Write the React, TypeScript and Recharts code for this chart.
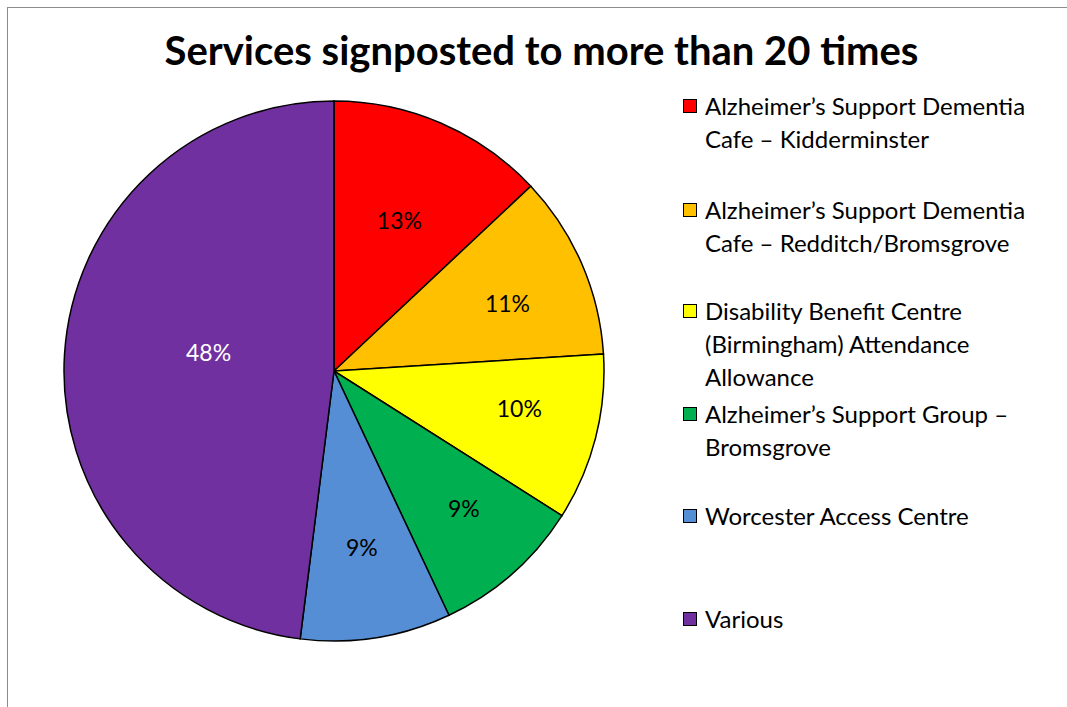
import { PieChart, Pie, Cell, Legend } from 'recharts';

const services = [
  'Alzheimer\u2019s Support Dementia Cafe \u2013 Kidderminster',
  'Alzheimer\u2019s Support Dementia Cafe \u2013 Redditch/Bromsgrove',
  'Disability Benefit Centre (Birmingham) Attendance Allowance',
  'Alzheimer\u2019s Support Group \u2013 Bromsgrove',
  'Worcester Access Centre',
  'Various',
];
const shares = [13, 11, 10, 9, 9, 48];

// legend text is wrapped by hand like the original layout
const legendLines = [
  ['Alzheimer\u2019s Support Dementia', 'Cafe \u2013 Kidderminster'],
  ['Alzheimer\u2019s Support Dementia', 'Cafe \u2013 Redditch/Bromsgrove'],
  ['Disability Benefit Centre', '(Birmingham) Attendance', 'Allowance'],
  ['Alzheimer\u2019s Support Group \u2013', 'Bromsgrove'],
  ['Worcester Access Centre'],
  ['Various'],
];

const colors = ['#ff0000', '#ffc000', '#ffff00', '#00b050', '#558ed5', '#7030a0'];
const labelColors = ['#000', '#000', '#000', '#000', '#000', '#fff'];
const labelRadius = [0.61, 0.69, 0.7, 0.7, 0.66, 0.47];
const labelTurn = [0, -2, 3, 2, 0, -5]; // small angular nudges, degrees (ccw positive)
const legendTops = [89, 193, 294, 397, 499, 602];

const FONT = 'Lato, "Open Sans", sans-serif';
const RADIAN = Math.PI / 180;

const data = services.map((name, i) => ({ name, value: shares[i] }));

function SliceLabel(props: any) {
  const { cx, cy, midAngle, outerRadius, index, value } = props;
  const r = outerRadius * labelRadius[index];
  const a = (midAngle + labelTurn[index]) * RADIAN;
  const x = cx + r * Math.cos(-a);
  const y = cy + r * Math.sin(-a);
  return (
    <text
      x={x}
      y={y}
      fill={labelColors[index]}
      textAnchor="middle"
      dominantBaseline="central"
      fontSize={23}
      fontFamily={FONT}
    >
      {`${value}%`}
    </text>
  );
}

function ServiceLegend() {
  return (
    <div style={{ position: 'relative', width: 380, height: 560, fontFamily: FONT }}>
      {legendLines.map((lines, i) => (
        <div key={i} style={{ position: 'absolute', top: legendTops[i], left: 0, display: 'flex' }}>
          <div
            style={{
              width: 14,
              height: 14,
              marginTop: 10,
              marginRight: 8,
              background: colors[i],
              border: '1.5px solid #000',
              boxSizing: 'border-box',
              flexShrink: 0,
            }}
          />
          <div style={{ fontSize: 24, lineHeight: '33px', color: '#000' }}>
            {lines.map((l, j) => (
              <div key={j} style={{ whiteSpace: 'nowrap' }}>{l}</div>
            ))}
          </div>
        </div>
      ))}
    </div>
  );
}

export default function App() {
  return (
    <div style={{ position: 'absolute', left: 0, top: 0, width: 1067, height: 707, background: '#fff', overflow: 'hidden' }}>
      <div
        style={{
          position: 'absolute',
          left: 7,
          top: 7,
          width: 1080,
          height: 720,
          border: '1.5px solid #8c8c8c',
          boxSizing: 'border-box',
        }}
      />
      <div
        style={{
          position: 'absolute',
          left: 0,
          width: 1083,
          top: 26,
          textAlign: 'center',
          fontFamily: FONT,
          fontWeight: 700,
          fontSize: 40,
          color: '#000',
        }}
      >
        Services signposted to more than 20 times
      </div>
      <div style={{ position: 'absolute', left: 0, top: 0 }}>
        <PieChart width={1067} height={707} margin={{ top: 0, right: 0, bottom: 0, left: 0 }}>
          <Pie
            data={data}
            dataKey="value"
            nameKey="name"
            cx={334}
            cy={371}
            outerRadius={270}
            startAngle={90}
            endAngle={-270}
            stroke="#000"
            strokeWidth={1.5}
            label={SliceLabel}
            labelLine={false}
            isAnimationActive={false}
          >
            {data.map((d, i) => (
              <Cell key={d.name} fill={colors[i]} />
            ))}
          </Pie>
          <Legend
            layout="vertical"
            align="right"
            verticalAlign="top"
            wrapperStyle={{ left: 683, top: 0, width: 380 }}
            content={() => <ServiceLegend />}
          />
        </PieChart>
      </div>
    </div>
  );
}
